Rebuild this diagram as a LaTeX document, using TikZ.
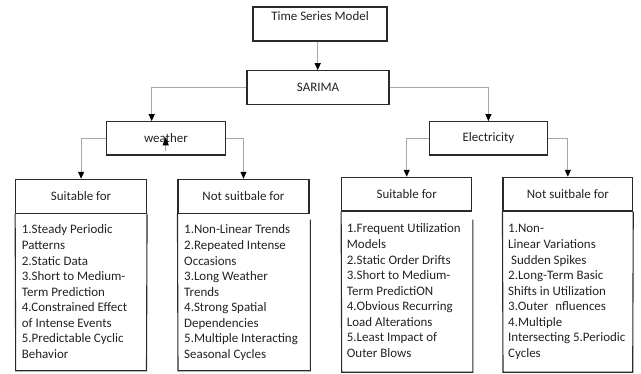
\documentclass[tikz,border=0pt]{standalone}
\usepackage{fontspec}
\setmainfont{Carlito}
\usetikzlibrary{arrows.meta}
\definecolor{ink}{HTML}{222222}
\definecolor{edge}{HTML}{2A2A2A}
\definecolor{wire}{HTML}{A8A8A8}

\begin{document}
\begin{tikzpicture}[x=1bp,y=-1bp,
  fnt/.style={font=\fontsize{13}{15.6}\selectfont, text=ink},
  box/.style={draw=edge, line width=1.1bp, rectangle, inner sep=0pt, fnt},
  outline/.style={draw=edge, line width=1.1bp},
  conn/.style={draw=wire, line width=1bp, -{Triangle[length=7bp,width=6bp,color=black]}},
  listtext/.style={fnt, anchor=north west, align=left, inner sep=0pt}]

\useasboundingbox (0,0) rectangle (641,373);

% top of the tree
\node[box, minimum width=134bp, minimum height=34bp] (tsm) at (320,24) {};
\node[fnt, anchor=base, inner sep=0pt] (tsmlabel) at (320,20) {Time Series Model};
\node[box, minimum width=142bp, minimum height=33.3bp] (sarima) at (318,87.4) {SARIMA};

% application domains
\node[box, minimum width=118.3bp, minimum height=33.3bp] (weather) at (165.9,138.3) {weather};
\node[box, minimum width=118bp, minimum height=33.3bp] (elec) at (488.4,138.3) {Electricity};

% small upward arrow inside the weather box
\coordinate (sbase) at (165.7,150.7);
\coordinate (stip) at (165.7,137.3);
\draw[draw=wire, line width=0.8bp, -{Triangle[length=8bp,width=6bp,color=black]}] (sbase) -- (stip);

% list headers
\node[box, minimum width=130.8bp, minimum height=34bp] (lsh) at (81.1,196.3) {Suitable for};
\node[box, minimum width=131bp, minimum height=34bp] (lnh) at (243.5,196.3) {Not suitbale for};
\node[box, minimum width=130bp, minimum height=33.7bp] (rsh) at (406.7,194.15) {Suitable for};
\node[box, minimum width=129.7bp, minimum height=33.7bp] (rnh) at (567.85,194.15) {Not suitbale for};

% list bodies
\coordinate (lsbl) at (15.7,370.7);  \coordinate (lsbr) at (146.5,370.7);
\draw[outline] (lsh.south west) -- (lsbl) -- (lsbr) -- (lsh.south east);
\coordinate (lnbl) at (178,370.7);   \coordinate (lnbr) at (310.3,370.7);
\coordinate (lnbt) at (310.3,219.5);
\draw[outline] (lnh.south west) -- (lnbl) -- (lnbr) -- (lnbt);
\coordinate (rsbl) at (341.7,372.2); \coordinate (rsbr) at (472.9,372.2);
\coordinate (rsbt) at (472.9,219.5);
\draw[outline] (rsh.south west) -- (rsbl) -- (rsbr) -- (rsbt);
\coordinate (rnbl) at (503,372.2);   \coordinate (rnbr) at (632.7,372.2);
\draw[outline] (rnh.south west) -- (rnbl) -- (rnbr) -- (rnh.south east);

% list contents
\node[listtext] (lstext) at (21.7,222.9) {\strut 1.Steady Periodic\\Patterns\\2.Static Data\\3.Short to Medium-\\Term Prediction\\4.Constrained Effect\\of Intense Events\\5.Predictable Cyclic\\Behavior};
\node[listtext] (lntext) at (184,222.9) {\strut 1.Non-Linear Trends\\2.Repeated Intense\\Occasions\\3.Long Weather\\Trends\\4.Strong Spatial\\Dependencies\\5.Multiple Interacting\\Seasonal Cycles};
\node[listtext] (rstext) at (346.7,221.9) {\strut 1.Frequent Utilization\\Models\\2.Static Order Drifts\\3.Short to Medium-\\Term PredictiON\\4.Obvious Recurring\\Load Alterations\\5.Least Impact of\\Outer Blows};
\node[listtext] (rntext) at (508,221.9) {\strut 1.Non-\\Linear Variations\\\hspace*{3bp}Sudden Spikes\\2.Long-Term Basic\\Shifts in Utilization\\3.Outer\hspace*{4bp} nfluences\\4.Multiple\\Intersecting 5.Periodic\\Cycles};

% connectors
\coordinate (tsmout) at ([xshift=-2.3bp]tsm.south);
\draw[conn] (tsmout) -- (tsmout |- sarima.north);
\coordinate (win) at ([xshift=-14.2bp]weather.north);
\draw[conn] (sarima.west) -| (win);
\draw[conn] (sarima.east) -| (elec.north);
\draw[conn] (weather.west) -| (lsh.north);
\draw[conn] (weather.east) -| (lnh.north);
\draw[conn] (elec.west) -| (rsh.north);
\draw[conn] (elec.east) -| (rnh.north);
\end{tikzpicture}
\end{document}
